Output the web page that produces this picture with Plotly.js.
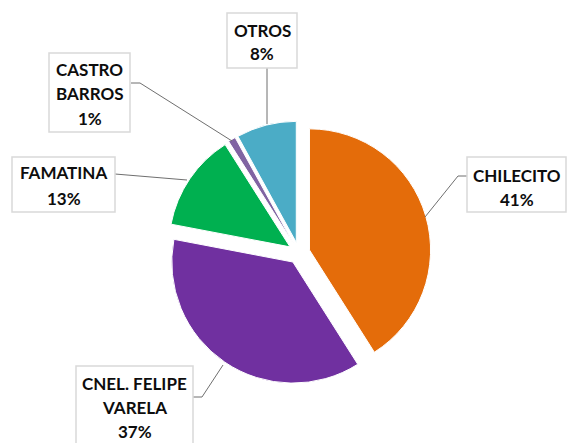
<!DOCTYPE html>
<html>
<head>
<meta charset="utf-8">
<script src="https://cdn.plot.ly/plotly-3.0.1.min.js"></script>
<style>html,body{margin:0;padding:0;background:#fff;}#chart{width:569px;height:443px;}</style>
</head>
<body>
<div id="chart"></div>
<script>
// ---- data ----
var categories = ['CHILECITO', 'CNEL. FELIPE VARELA', 'FAMATINA', 'CASTRO BARROS', 'OTROS'];
var values = [41, 37, 13, 1, 8];
var labelLines = [['CHILECITO'], ['CNEL. FELIPE', 'VARELA'], ['FAMATINA'], ['CASTRO', 'BARROS'], ['OTROS']];
var colors = ['#E46C0A', '#7030A0', '#00B050', '#8064A2', '#4BACC6'];

// ---- label layout (pixels) ----
var W = 569, H = 443;
var boxes = [
  {box: [467, 157, 566, 212], cx: 516.5, ys: [175, 199], leader: [[467, 176], [458, 176], [425, 217]]},
  {box: [76, 366, 193, 460], cx: 134.5, ys: [383, 407, 431], leader: [[193, 397], [202, 397], [223, 365]]},
  {box: [12, 157, 115, 212], cx: 63.5, ys: [173, 198], leader: [[115, 174], [187, 180]]},
  {box: [49, 53, 130, 132], cx: 89.5, ys: [70, 94, 118], leader: [[131, 83], [140, 83], [232, 141]]},
  {box: [227, 13, 297, 68], cx: 262, ys: [31, 54], leader: [[267, 68], [267, 124]]}
];
function px(x) { return x / W; }
function py(y) { return 1 - y / H; }

var total = values.reduce(function (a, b) { return a + b; }, 0);
var shapes = [], annotations = [];
boxes.forEach(function (b, i) {
  var pts = b.leader.map(function (p, k) { return (k ? 'L' : 'M') + px(p[0]) + ',' + py(p[1]); }).join(' ');
  shapes.push({type: 'path', xref: 'paper', yref: 'paper', path: pts, line: {color: '#6f6f6f', width: 1}});
  shapes.push({type: 'rect', xref: 'paper', yref: 'paper', x0: px(b.box[0]), x1: px(b.box[2]), y0: py(b.box[3]), y1: py(b.box[1]),
    fillcolor: '#ffffff', line: {color: '#d9d9d9', width: 1.5}});
  var lines = labelLines[i].concat([Math.round(values[i] / total * 100) + '%']);
  lines.forEach(function (t, k) {
    annotations.push({xref: 'paper', yref: 'paper', x: px(b.cx), y: py(b.ys[k]), xanchor: 'center', yanchor: 'middle',
      text: '<b>' + t + '</b>', showarrow: false, font: {family: 'Lato, sans-serif', size: 17, color: '#0d0d0d'}});
  });
});

var trace = {
  type: 'pie',
  labels: categories,
  values: values,
  sort: false,
  direction: 'clockwise',
  rotation: 0,
  pull: 0.09,
  textinfo: 'none',
  hoverinfo: 'label+percent',
  marker: {colors: colors, line: {color: '#ffffff', width: 1}},
  domain: {x: [px(167), px(431)], y: [py(386), py(120)]}
};

Plotly.newPlot('chart', [trace], {
  width: W, height: H,
  margin: {l: 0, r: 0, t: 0, b: 0},
  showlegend: false,
  paper_bgcolor: '#ffffff',
  shapes: shapes,
  annotations: annotations
}, {staticPlot: true});
</script>
</body>
</html>
